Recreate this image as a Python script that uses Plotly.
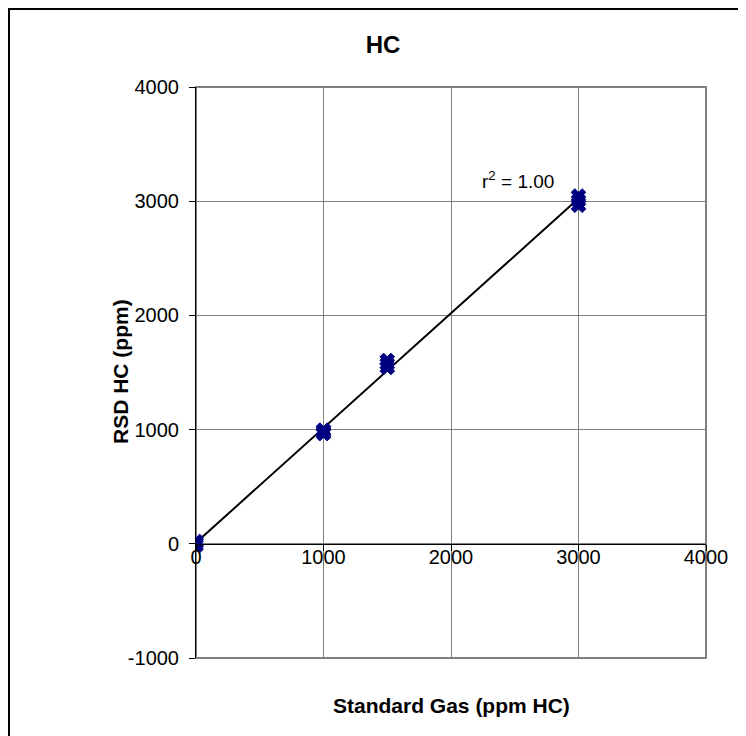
import numpy as np
import plotly.graph_objects as go

# Data
standard_gas = [0, 0, 0, 1000, 1000, 1000, 1500, 1500, 1500, 3000, 3000, 3000]
rsd_hc = [-15, 5, 20, 965, 980, 995, 1545, 1575, 1605, 2965, 3005, 3045]
x_ticks = [0, 1000, 2000, 3000, 4000]
y_ticks = [-1000, 0, 1000, 2000, 3000, 4000]
y_tick_text = ["-1000", "0", "1000", "2000", "3000", "4000"]

slope, intercept = np.polyfit(standard_gas, rsd_hc, 1)
fit_x = [min(standard_gas), max(standard_gas)]
fit_y = [slope * v + intercept for v in fit_x]

OFF = 8  # page body margin
W, H = 746 - OFF, 736 - OFF
L, T = 196 - OFF, 87 - OFF
pw, ph = 510, 571
R = W - L - pw
B = H - T - ph

def px(xs):  # screen x -> paper
    return (xs - OFF - L) / pw

def py(ys):  # screen y -> paper
    return (T + ph - (ys - OFF)) / ph

fig = go.Figure()
fig.add_trace(go.Scatter(x=fit_x, y=fit_y, mode="lines",
                         line=dict(color="black", width=2), showlegend=False))
fig.add_trace(go.Scatter(x=standard_gas, y=rsd_hc, mode="markers",
                         marker=dict(symbol="x", size=13, color="#000080",
                                     line=dict(width=1, color="#000080")),
                         showlegend=False))

font = "Liberation Sans, Arial, sans-serif"
fig.update_layout(
    width=W, height=H,
    margin=dict(l=L, r=R, t=T, b=B),
    paper_bgcolor="white", plot_bgcolor="white",
    font=dict(family=font, size=20, color="black"),
    title=dict(text="<b>HC</b>", x=(383 - OFF) / W, xanchor="center",
               y=1 - (45 - OFF) / H, yanchor="middle", font=dict(size=24)),
    xaxis=dict(range=[0, 4000], tickvals=x_ticks, showgrid=True,
               gridcolor="#808080", gridwidth=1, zeroline=False,
               showline=True, linecolor="black", linewidth=1,
               ticks="outside", ticklen=6, tickcolor="black",
               ticklabelstandoff=-11,
               anchor="free", position=0.2, tickfont=dict(size=20)),
    yaxis=dict(range=[-1000, 4000], tickvals=y_ticks, ticktext=y_tick_text,
               showgrid=True, gridcolor="#808080", gridwidth=1, zeroline=False,
               showline=True, linecolor="black", linewidth=1,
               ticks="outside", ticklen=6, tickcolor="black",
               ticklabelstandoff=6,
               tickfont=dict(size=20)),
    shapes=[
        dict(type="rect", xref="paper", yref="paper", x0=0, x1=1, y0=0, y1=1,
             line=dict(color="#808080", width=2), layer="below"),
        dict(type="rect", xref="paper", yref="paper",
             x0=px(9), x1=px(742), y0=py(9), y1=py(745),
             line=dict(color="black", width=2)),
    ],
    annotations=[
        dict(text="<b>Standard Gas (ppm HC)</b>", xref="paper", yref="paper",
             x=px(451), y=py(706), showarrow=False, font=dict(size=21),
             xanchor="center", yanchor="middle"),
        dict(text="<b>RSD HC (ppm)</b>", xref="paper", yref="paper",
             x=px(120), y=py(372), showarrow=False, font=dict(size=21),
             textangle=-90, xanchor="center", yanchor="middle"),
        dict(text="r<sup>2</sup> = 1.00", xref="paper", yref="paper",
             x=px(518), y=py(180), showarrow=False, font=dict(size=19),
             xanchor="center", yanchor="middle"),
    ],
)

fig.write_html("out.html")
